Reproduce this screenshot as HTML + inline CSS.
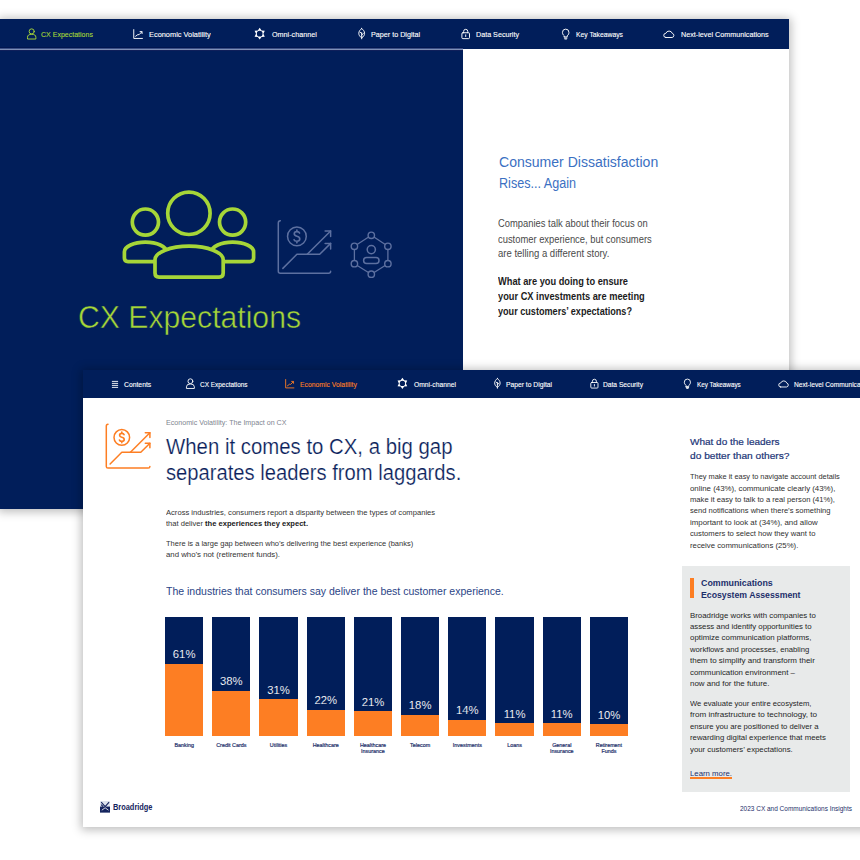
<!DOCTYPE html>
<html><head><meta charset="utf-8">
<style>
*{margin:0;padding:0;box-sizing:border-box}
html,body{width:860px;height:860px;overflow:hidden;background:#fff;font-family:"Liberation Sans", sans-serif}
b{font-weight:700}
</style></head><body>
<div style="position:absolute;left:0;top:19px;width:789px;height:490px;background:#011e5a;box-shadow:0 1px 9px 2px rgba(0,0,0,0.26)"></div>
<div style="position:absolute;left:0;top:47px;width:463px;height:1px;background:#011650"></div>
<div style="position:absolute;left:0;top:48px;width:463px;height:1px;background:#3a4f85"></div>
<div style="position:absolute;left:0;top:49px;width:463px;height:1px;background:#8090b6"></div>
<div style="position:absolute;left:0;top:50px;width:463px;height:1px;background:#0f1f5a"></div>
<div style="position:absolute;left:463px;top:49px;width:326px;height:460px;background:#fff"></div>
<svg style="position:absolute;left:26.0px;top:28.0px;overflow:visible" width="11.399999999999999" height="11.399999999999999" viewBox="0 0 12 12"><g fill="none" stroke="#a6d638" stroke-width="1.0" stroke-linecap="round" stroke-linejoin="round"><circle cx="6" cy="3.6" r="2.7"/><path d="M1.6 11.2 V9.8 A4.4 3.2 0 0 1 10.4 9.8 V11.2 Z"/></g></svg>
<div id="t0" style="position:absolute;left:41.40px;top:31.21px;font-size:8.0px;line-height:8.0px;color:#a6d638;font-weight:400;white-space:nowrap;transform:scaleX(0.8776);transform-origin:0 0;-webkit-text-stroke-width:0.12px;">CX Expectations</div>
<svg style="position:absolute;left:132.0px;top:28.0px;overflow:visible" width="11.399999999999999" height="11.399999999999999" viewBox="0 0 12 12"><g fill="none" stroke="#fff" stroke-width="1.0" stroke-linecap="round" stroke-linejoin="round"><path d="M1.85 1.7 V11 H11"/><path d="M3.8 8.7 L6.2 6.9 L7.4 7.1 L10.2 4.2"/><path d="M8.5 3.8 H10.6 V5.9"/></g></svg>
<div id="t1" style="position:absolute;left:149.00px;top:31.21px;font-size:8.0px;line-height:8.0px;color:#fff;font-weight:400;white-space:nowrap;transform:scaleX(0.9250);transform-origin:0 0;-webkit-text-stroke-width:0.12px;">Economic Volatility</div>
<svg style="position:absolute;left:254.0px;top:28.0px;overflow:visible" width="11.399999999999999" height="11.399999999999999" viewBox="0 0 12 12"><path d="M6.00 -0.20 L4.05 2.62 L0.63 2.90 L2.10 6.00 L0.63 9.10 L4.05 9.38 L6.00 12.20 L7.95 9.38 L11.37 9.10 L9.90 6.00 L11.37 2.90 L7.95 2.62 Z M9 6 A3 3 0 1 0 3 6 A3 3 0 1 0 9 6 Z" fill="#fff" fill-rule="evenodd"/></svg>
<div id="t2" style="position:absolute;left:271.90px;top:31.21px;font-size:8.0px;line-height:8.0px;color:#fff;font-weight:400;white-space:nowrap;transform:scaleX(0.8994);transform-origin:0 0;-webkit-text-stroke-width:0.12px;">Omni-channel</div>
<svg style="position:absolute;left:356.2px;top:28.0px;overflow:visible" width="11.399999999999999" height="11.399999999999999" viewBox="0 0 12 12"><g fill="none" stroke="#fff" stroke-width="1.0" stroke-linecap="round" stroke-linejoin="round"><path d="M6 0.6 C10 3.2 10.2 7.8 6 10.4 C1.8 7.8 2 3.2 6 0.6 Z"/><path d="M6 11.4 V5 M6 7.4 L7.8 5.8 M6 5.8 L4.4 4.4"/></g></svg>
<div id="t3" style="position:absolute;left:371.40px;top:31.21px;font-size:8.0px;line-height:8.0px;color:#fff;font-weight:400;white-space:nowrap;transform:scaleX(0.8976);transform-origin:0 0;-webkit-text-stroke-width:0.12px;">Paper to Digital</div>
<svg style="position:absolute;left:459.8px;top:28.0px;overflow:visible" width="11.399999999999999" height="11.399999999999999" viewBox="0 0 12 12"><g fill="none" stroke="#fff" stroke-width="1.0" stroke-linecap="round" stroke-linejoin="round"><rect x="2" y="5" width="8" height="6.2" rx="1"/><path d="M3.8 5 V3.6 A2.2 2.2 0 0 1 8.2 3.6 V5"/><path d="M6 7.2 V9"/></g></svg>
<div id="t4" style="position:absolute;left:475.60px;top:31.21px;font-size:8.0px;line-height:8.0px;color:#fff;font-weight:400;white-space:nowrap;transform:scaleX(0.8953);transform-origin:0 0;-webkit-text-stroke-width:0.12px;">Data Security</div>
<svg style="position:absolute;left:560.4px;top:28.0px;overflow:visible" width="11.399999999999999" height="11.399999999999999" viewBox="0 0 12 12"><g fill="none" stroke="#fff" stroke-width="1.0" stroke-linecap="round" stroke-linejoin="round"><path d="M4.4 8.2 C3 7.2 2.6 5.8 2.6 4.6 A3.4 3.4 0 0 1 9.4 4.6 C9.4 5.8 9 7.2 7.6 8.2 V9.4 H4.4 Z"/><path d="M4.6 10.6 H7.4 M5.2 11.6 H6.8"/></g></svg>
<div id="t5" style="position:absolute;left:575.60px;top:31.21px;font-size:8.0px;line-height:8.0px;color:#fff;font-weight:400;white-space:nowrap;transform:scaleX(0.8478);transform-origin:0 0;-webkit-text-stroke-width:0.12px;">Key Takeaways</div>
<svg style="position:absolute;left:663.4px;top:28.0px;overflow:visible" width="11.399999999999999" height="11.399999999999999" viewBox="0 0 12 12"><g fill="none" stroke="#fff" stroke-width="1.0" stroke-linecap="round" stroke-linejoin="round"><path d="M3 10 H9.6 A2.2 2.2 0 0 0 9.8 5.7 A3.6 3.6 0 0 0 3 5.6 A2.2 2.2 0 0 0 3 10 Z"/></g></svg>
<div id="t6" style="position:absolute;left:681.00px;top:31.21px;font-size:8.0px;line-height:8.0px;color:#fff;font-weight:400;white-space:nowrap;transform:scaleX(0.8996);transform-origin:0 0;-webkit-text-stroke-width:0.12px;">Next-level Communications</div>
<svg style="position:absolute;left:0;top:0" width="860" height="860">
<g fill="none" stroke="#a6d638" stroke-width="3.7" stroke-linejoin="round">
<circle cx="145.4" cy="222.1" r="13.1"/>
<circle cx="232.6" cy="222.1" r="13.1"/>
<circle cx="188.9" cy="213.3" r="21.2"/>
<path d="M124.4 251.8 A21 9.6 0 0 1 166.4 251.8 V258 Q166.4 261.6 162.8 261.6 H128 Q124.4 261.6 124.4 258 Z"/>
<path d="M211.6 251.8 A21 9.6 0 0 1 253.6 251.8 V258 Q253.6 261.6 250 261.6 H215.2 Q211.6 261.6 211.6 258 Z"/>
<path fill="#011e5a" d="M155 259.8 A34.1 13.6 0 0 1 223.2 259.8 V273 Q223.2 277.1 219.2 277.1 H159 Q155 277.1 155 273 Z"/>
</g>
<g fill="none" stroke="#5d70a0" stroke-width="1.5" stroke-linecap="round" stroke-linejoin="round">
<path d="M371.3 235.3 L354.4 246.3 V263.7 L371.3 274.2 L387.9 263.7 V246.3 Z" stroke-width="1.3"/>
<circle cx="371.3" cy="249.6" r="4.1"/>
<rect x="363.6" y="257.6" width="15.4" height="6" rx="3"/>
</g>
<g fill="#011e5a" stroke="#5d70a0" stroke-width="1.4">
<circle cx="371.3" cy="235.3" r="3.2"/><circle cx="371.3" cy="274.2" r="3.2"/>
<circle cx="354.4" cy="246.3" r="3.2"/><circle cx="354.4" cy="263.7" r="3.2"/>
<circle cx="387.9" cy="246.3" r="3.2"/><circle cx="387.9" cy="263.7" r="3.2"/>
</g>
<g transform="translate(278.3 220.6) scale(1.2) translate(-106.3 -424.2)"><g fill="none" stroke="#5d70a0" stroke-width="1.25" stroke-linecap="round" stroke-linejoin="round">
<path d="M108 424.3 Q106.3 424.3 106.3 426.2 V466.4 Q106.3 468.1 108 468.1 H148.2 Q149.9 468.1 149.9 466.4"/>
<circle cx="121.8" cy="437.4" r="7.8"/>
<path d="M110.1 464 L121.8 452.3 H140.8 L149.9 443.2"/>
<path d="M130.4 452.3 L149.9 432.8"/>
<path d="M145.3 432.8 H149.9 V437.4"/>
<path d="M145.3 443.2 H149.9 V447.8"/>
<path d="M124 434.6 Q123.6 433.4 121.8 433.4 Q119.6 433.4 119.6 435.2 Q119.6 436.8 121.8 437.3 Q124.2 437.8 124.2 439.6 Q124.2 441.4 121.8 441.4 Q119.8 441.4 119.4 440.1 M121.8 432.1 V433.4 M121.8 441.4 V442.7" stroke-width="1.375"/>
</g></g>
</svg>
<div id="t7" style="position:absolute;left:78.00px;top:302.01px;font-size:31px;line-height:31px;color:#a6d638;font-weight:400;white-space:nowrap;transform:scaleX(0.9731);transform-origin:0 0;-webkit-text-stroke:0.5px #011e5a;">CX Expectations</div>
<div id="t8" style="position:absolute;left:498.80px;top:154.60px;font-size:14px;line-height:14px;color:#3b70c2;font-weight:400;white-space:nowrap;transform:scaleX(1.0029);transform-origin:0 0;">Consumer Dissatisfaction</div>
<div id="t9" style="position:absolute;left:498.80px;top:175.51px;font-size:14px;line-height:14px;color:#3b70c2;font-weight:400;white-space:nowrap;transform:scaleX(0.8994);transform-origin:0 0;">Rises... Again</div>
<div id="t10" style="position:absolute;left:498.30px;top:219.40px;font-size:10px;line-height:10px;color:#4a4a4a;font-weight:400;white-space:nowrap;transform:scaleX(0.9383);transform-origin:0 0;">Companies talk about their focus on</div>
<div id="t11" style="position:absolute;left:498.30px;top:234.52px;font-size:10px;line-height:10px;color:#4a4a4a;font-weight:400;white-space:nowrap;transform:scaleX(0.9374);transform-origin:0 0;">customer experience, but consumers</div>
<div id="t12" style="position:absolute;left:498.30px;top:249.41px;font-size:10px;line-height:10px;color:#4a4a4a;font-weight:400;white-space:nowrap;transform:scaleX(0.9519);transform-origin:0 0;">are telling a different story.</div>
<div id="t13" style="position:absolute;left:498.30px;top:277.40px;font-size:10px;line-height:10px;color:#1c1c1c;font-weight:700;white-space:nowrap;transform:scaleX(0.9248);transform-origin:0 0;">What are you doing to ensure</div>
<div id="t14" style="position:absolute;left:498.30px;top:292.40px;font-size:10px;line-height:10px;color:#1c1c1c;font-weight:700;white-space:nowrap;transform:scaleX(0.9262);transform-origin:0 0;">your CX investments are meeting</div>
<div id="t15" style="position:absolute;left:498.30px;top:307.20px;font-size:10px;line-height:10px;color:#1c1c1c;font-weight:700;white-space:nowrap;transform:scaleX(0.9098);transform-origin:0 0;">your customers’ expectations?</div>
<div style="position:absolute;left:83px;top:370px;width:800px;height:457px;background:#fff;box-shadow:0 1px 9px 2px rgba(0,0,0,0.26)"></div>
<div style="position:absolute;left:83px;top:370px;width:800px;height:28px;background:#011e5a"></div>
<svg style="position:absolute;left:0;top:0" width="860" height="860"><path d="M111.9 381.4 H118.1 M111.9 383.4 H118.1 M111.9 385.4 H118.1 M111.9 387.4 H118.1" stroke="#fff" stroke-width="0.9"/></svg>
<div id="t16" style="position:absolute;left:123.70px;top:381.30px;font-size:7.4px;line-height:7.4px;color:#fff;font-weight:400;white-space:nowrap;transform:scaleX(0.9191);transform-origin:0 0;-webkit-text-stroke-width:0.12px;">Contents</div>
<svg style="position:absolute;left:184.8px;top:378.4px;overflow:visible" width="10.8" height="10.8" viewBox="0 0 12 12"><g fill="none" stroke="#fff" stroke-width="1.0" stroke-linecap="round" stroke-linejoin="round"><circle cx="6" cy="3.6" r="2.7"/><path d="M1.6 11.2 V9.8 A4.4 3.2 0 0 1 10.4 9.8 V11.2 Z"/></g></svg>
<div id="t17" style="position:absolute;left:199.80px;top:381.30px;font-size:7.4px;line-height:7.4px;color:#fff;font-weight:400;white-space:nowrap;transform:scaleX(0.8711);transform-origin:0 0;-webkit-text-stroke-width:0.12px;">CX Expectations</div>
<svg style="position:absolute;left:284.0px;top:378.4px;overflow:visible" width="10.8" height="10.8" viewBox="0 0 12 12"><g fill="none" stroke="#fd7e23" stroke-width="1.0" stroke-linecap="round" stroke-linejoin="round"><path d="M1.85 1.7 V11 H11"/><path d="M3.8 8.7 L6.2 6.9 L7.4 7.1 L10.2 4.2"/><path d="M8.5 3.8 H10.6 V5.9"/></g></svg>
<div id="t18" style="position:absolute;left:299.80px;top:381.30px;font-size:7.4px;line-height:7.4px;color:#fd7e23;font-weight:400;white-space:nowrap;transform:scaleX(0.9233);transform-origin:0 0;-webkit-text-stroke-width:0.12px;">Economic Volatility</div>
<svg style="position:absolute;left:397.4px;top:378.4px;overflow:visible" width="10.8" height="10.8" viewBox="0 0 12 12"><path d="M6.00 -0.20 L4.05 2.62 L0.63 2.90 L2.10 6.00 L0.63 9.10 L4.05 9.38 L6.00 12.20 L7.95 9.38 L11.37 9.10 L9.90 6.00 L11.37 2.90 L7.95 2.62 Z M9 6 A3 3 0 1 0 3 6 A3 3 0 1 0 9 6 Z" fill="#fff" fill-rule="evenodd"/></svg>
<div id="t19" style="position:absolute;left:413.70px;top:381.30px;font-size:7.4px;line-height:7.4px;color:#fff;font-weight:400;white-space:nowrap;transform:scaleX(0.9106);transform-origin:0 0;-webkit-text-stroke-width:0.12px;">Omni-channel</div>
<svg style="position:absolute;left:491.8px;top:378.4px;overflow:visible" width="10.8" height="10.8" viewBox="0 0 12 12"><g fill="none" stroke="#fff" stroke-width="1.0" stroke-linecap="round" stroke-linejoin="round"><path d="M6 0.6 C10 3.2 10.2 7.8 6 10.4 C1.8 7.8 2 3.2 6 0.6 Z"/><path d="M6 11.4 V5 M6 7.4 L7.8 5.8 M6 5.8 L4.4 4.4"/></g></svg>
<div id="t20" style="position:absolute;left:506.00px;top:381.30px;font-size:7.4px;line-height:7.4px;color:#fff;font-weight:400;white-space:nowrap;transform:scaleX(0.9103);transform-origin:0 0;-webkit-text-stroke-width:0.12px;">Paper to Digital</div>
<svg style="position:absolute;left:588.6px;top:378.4px;overflow:visible" width="10.8" height="10.8" viewBox="0 0 12 12"><g fill="none" stroke="#fff" stroke-width="1.0" stroke-linecap="round" stroke-linejoin="round"><rect x="2" y="5" width="8" height="6.2" rx="1"/><path d="M3.8 5 V3.6 A2.2 2.2 0 0 1 8.2 3.6 V5"/><path d="M6 7.2 V9"/></g></svg>
<div id="t21" style="position:absolute;left:603.30px;top:381.30px;font-size:7.4px;line-height:7.4px;color:#fff;font-weight:400;white-space:nowrap;transform:scaleX(0.9014);transform-origin:0 0;-webkit-text-stroke-width:0.12px;">Data Security</div>
<svg style="position:absolute;left:682.2px;top:378.4px;overflow:visible" width="10.8" height="10.8" viewBox="0 0 12 12"><g fill="none" stroke="#fff" stroke-width="1.0" stroke-linecap="round" stroke-linejoin="round"><path d="M4.4 8.2 C3 7.2 2.6 5.8 2.6 4.6 A3.4 3.4 0 0 1 9.4 4.6 C9.4 5.8 9 7.2 7.6 8.2 V9.4 H4.4 Z"/><path d="M4.6 10.6 H7.4 M5.2 11.6 H6.8"/></g></svg>
<div id="t22" style="position:absolute;left:696.50px;top:381.30px;font-size:7.4px;line-height:7.4px;color:#fff;font-weight:400;white-space:nowrap;transform:scaleX(0.8532);transform-origin:0 0;-webkit-text-stroke-width:0.12px;">Key Takeaways</div>
<svg style="position:absolute;left:778.0px;top:378.4px;overflow:visible" width="10.8" height="10.8" viewBox="0 0 12 12"><g fill="none" stroke="#fff" stroke-width="1.0" stroke-linecap="round" stroke-linejoin="round"><path d="M3 10 H9.6 A2.2 2.2 0 0 0 9.8 5.7 A3.6 3.6 0 0 0 3 5.6 A2.2 2.2 0 0 0 3 10 Z"/></g></svg>
<div id="t23" style="position:absolute;left:794.40px;top:381.30px;font-size:7.4px;line-height:7.4px;color:#fff;font-weight:400;white-space:nowrap;transform:scaleX(0.8960);transform-origin:0 0;-webkit-text-stroke-width:0.12px;">Next-level Communications</div>
<svg style="position:absolute;left:0;top:0" width="860" height="860"><g fill="none" stroke="#fd7e23" stroke-width="1.5" stroke-linecap="round" stroke-linejoin="round">
<path d="M108 424.3 Q106.3 424.3 106.3 426.2 V466.4 Q106.3 468.1 108 468.1 H148.2 Q149.9 468.1 149.9 466.4"/>
<circle cx="121.8" cy="437.4" r="7.8"/>
<path d="M110.1 464 L121.8 452.3 H140.8 L149.9 443.2"/>
<path d="M130.4 452.3 L149.9 432.8"/>
<path d="M145.3 432.8 H149.9 V437.4"/>
<path d="M145.3 443.2 H149.9 V447.8"/>
<path d="M124 434.6 Q123.6 433.4 121.8 433.4 Q119.6 433.4 119.6 435.2 Q119.6 436.8 121.8 437.3 Q124.2 437.8 124.2 439.6 Q124.2 441.4 121.8 441.4 Q119.8 441.4 119.4 440.1 M121.8 432.1 V433.4 M121.8 441.4 V442.7" stroke-width="1.6500000000000001"/>
</g></svg>
<div id="t24" style="position:absolute;left:165.70px;top:419.00px;font-size:7.2px;line-height:7.2px;color:#80858f;font-weight:400;white-space:nowrap;transform:scaleX(0.9900);transform-origin:0 0;">Economic Volatility: The Impact on CX</div>
<div id="t25" style="position:absolute;left:166.00px;top:436.50px;font-size:21.5px;line-height:21.5px;color:#0c1f5c;font-weight:400;white-space:nowrap;transform:scaleX(0.9476);transform-origin:0 0;-webkit-text-stroke:0.2px #fff;">When it comes to CX, a big gap</div>
<div id="t26" style="position:absolute;left:166.00px;top:462.81px;font-size:21.5px;line-height:21.5px;color:#0c1f5c;font-weight:400;white-space:nowrap;transform:scaleX(0.9395);transform-origin:0 0;-webkit-text-stroke:0.2px #fff;">separates leaders from laggards.</div>
<div id="t27" style="position:absolute;left:165.70px;top:509.01px;font-size:7.8px;line-height:7.8px;color:#333333;font-weight:400;white-space:nowrap;transform:scaleX(0.9748);transform-origin:0 0;">Across industries, consumers report a disparity between the types of companies</div>
<div id="t28" style="position:absolute;left:165.70px;top:520.20px;font-size:7.8px;line-height:7.8px;color:#333333;font-weight:400;white-space:nowrap;transform:scaleX(0.9693);transform-origin:0 0;">that deliver <b style="color:#1a1a1a">the experiences they expect.</b></div>
<div id="t29" style="position:absolute;left:165.70px;top:540.40px;font-size:7.8px;line-height:7.8px;color:#333333;font-weight:400;white-space:nowrap;transform:scaleX(0.9623);transform-origin:0 0;">There is a large gap between who’s delivering the best experience (banks)</div>
<div id="t30" style="position:absolute;left:165.70px;top:551.40px;font-size:7.8px;line-height:7.8px;color:#333333;font-weight:400;white-space:nowrap;transform:scaleX(1.0014);transform-origin:0 0;">and who’s not (retirement funds).</div>
<div id="t31" style="position:absolute;left:166.30px;top:585.70px;font-size:11.5px;line-height:11.5px;color:#2b4586;font-weight:400;white-space:nowrap;transform:scaleX(0.9140);transform-origin:0 0;">The industries that consumers say deliver the best customer experience.</div>
<div style="position:absolute;left:165.00px;top:617.2px;width:38.3px;height:46.41px;background:#011e5a"></div>
<div style="position:absolute;left:165.00px;top:663.61px;width:38.3px;height:72.59px;background:#fd7e23"></div>
<div id="t32" style="position:absolute;left:184.15px;top:649.02px;font-size:11.3px;line-height:11.3px;color:#fff;font-weight:400;white-space:nowrap;transform:translateX(-50%) scaleX(1.0);transform-origin:50% 0;-webkit-text-stroke:0.1px #011e5a;">61%</div>
<div id="t33" style="position:absolute;left:184.15px;top:742.81px;font-size:5.4px;line-height:5.4px;color:#1d2f6a;font-weight:400;white-space:nowrap;transform:translateX(-50%) scaleX(1.0);transform-origin:50% 0;-webkit-text-stroke-width:0.2px;">Banking</div>
<div style="position:absolute;left:212.20px;top:617.2px;width:38.3px;height:73.78px;background:#011e5a"></div>
<div style="position:absolute;left:212.20px;top:690.98px;width:38.3px;height:45.22px;background:#fd7e23"></div>
<div id="t34" style="position:absolute;left:231.35px;top:676.40px;font-size:11.3px;line-height:11.3px;color:#fff;font-weight:400;white-space:nowrap;transform:translateX(-50%) scaleX(1.0);transform-origin:50% 0;-webkit-text-stroke:0.1px #011e5a;">38%</div>
<div id="t35" style="position:absolute;left:231.35px;top:742.81px;font-size:5.4px;line-height:5.4px;color:#1d2f6a;font-weight:400;white-space:nowrap;transform:translateX(-50%) scaleX(1.0);transform-origin:50% 0;-webkit-text-stroke-width:0.2px;">Credit Cards</div>
<div style="position:absolute;left:259.40px;top:617.2px;width:38.3px;height:82.11px;background:#011e5a"></div>
<div style="position:absolute;left:259.40px;top:699.31px;width:38.3px;height:36.89px;background:#fd7e23"></div>
<div id="t36" style="position:absolute;left:278.55px;top:684.73px;font-size:11.3px;line-height:11.3px;color:#fff;font-weight:400;white-space:nowrap;transform:translateX(-50%) scaleX(1.0);transform-origin:50% 0;-webkit-text-stroke:0.1px #011e5a;">31%</div>
<div id="t37" style="position:absolute;left:278.55px;top:742.81px;font-size:5.4px;line-height:5.4px;color:#1d2f6a;font-weight:400;white-space:nowrap;transform:translateX(-50%) scaleX(1.0);transform-origin:50% 0;-webkit-text-stroke-width:0.2px;">Utilities</div>
<div style="position:absolute;left:306.60px;top:617.2px;width:38.3px;height:92.82px;background:#011e5a"></div>
<div style="position:absolute;left:306.60px;top:710.02px;width:38.3px;height:26.18px;background:#fd7e23"></div>
<div id="t38" style="position:absolute;left:325.75px;top:695.43px;font-size:11.3px;line-height:11.3px;color:#fff;font-weight:400;white-space:nowrap;transform:translateX(-50%) scaleX(1.0);transform-origin:50% 0;-webkit-text-stroke:0.1px #011e5a;">22%</div>
<div id="t39" style="position:absolute;left:325.75px;top:742.81px;font-size:5.4px;line-height:5.4px;color:#1d2f6a;font-weight:400;white-space:nowrap;transform:translateX(-50%) scaleX(1.0);transform-origin:50% 0;-webkit-text-stroke-width:0.2px;">Healthcare</div>
<div style="position:absolute;left:353.80px;top:617.2px;width:38.3px;height:94.01px;background:#011e5a"></div>
<div style="position:absolute;left:353.80px;top:711.21px;width:38.3px;height:24.99px;background:#fd7e23"></div>
<div id="t40" style="position:absolute;left:372.95px;top:696.62px;font-size:11.3px;line-height:11.3px;color:#fff;font-weight:400;white-space:nowrap;transform:translateX(-50%) scaleX(1.0);transform-origin:50% 0;-webkit-text-stroke:0.1px #011e5a;">21%</div>
<div id="t41" style="position:absolute;left:372.95px;top:742.81px;font-size:5.4px;line-height:5.4px;color:#1d2f6a;font-weight:400;white-space:nowrap;transform:translateX(-50%) scaleX(1.0);transform-origin:50% 0;-webkit-text-stroke-width:0.2px;">Healthcare</div>
<div id="t42" style="position:absolute;left:372.95px;top:748.51px;font-size:5.4px;line-height:5.4px;color:#1d2f6a;font-weight:400;white-space:nowrap;transform:translateX(-50%) scaleX(1.0);transform-origin:50% 0;-webkit-text-stroke-width:0.2px;">Insurance</div>
<div style="position:absolute;left:401.00px;top:617.2px;width:38.3px;height:97.58px;background:#011e5a"></div>
<div style="position:absolute;left:401.00px;top:714.78px;width:38.3px;height:21.42px;background:#fd7e23"></div>
<div id="t43" style="position:absolute;left:420.15px;top:700.19px;font-size:11.3px;line-height:11.3px;color:#fff;font-weight:400;white-space:nowrap;transform:translateX(-50%) scaleX(1.0);transform-origin:50% 0;-webkit-text-stroke:0.1px #011e5a;">18%</div>
<div id="t44" style="position:absolute;left:420.15px;top:742.81px;font-size:5.4px;line-height:5.4px;color:#1d2f6a;font-weight:400;white-space:nowrap;transform:translateX(-50%) scaleX(1.0);transform-origin:50% 0;-webkit-text-stroke-width:0.2px;">Telecom</div>
<div style="position:absolute;left:448.20px;top:617.2px;width:38.3px;height:102.34px;background:#011e5a"></div>
<div style="position:absolute;left:448.20px;top:719.54px;width:38.3px;height:16.66px;background:#fd7e23"></div>
<div id="t45" style="position:absolute;left:467.35px;top:704.96px;font-size:11.3px;line-height:11.3px;color:#fff;font-weight:400;white-space:nowrap;transform:translateX(-50%) scaleX(1.0);transform-origin:50% 0;-webkit-text-stroke:0.1px #011e5a;">14%</div>
<div id="t46" style="position:absolute;left:467.35px;top:742.81px;font-size:5.4px;line-height:5.4px;color:#1d2f6a;font-weight:400;white-space:nowrap;transform:translateX(-50%) scaleX(1.0);transform-origin:50% 0;-webkit-text-stroke-width:0.2px;">Investments</div>
<div style="position:absolute;left:495.40px;top:617.2px;width:38.3px;height:105.91px;background:#011e5a"></div>
<div style="position:absolute;left:495.40px;top:723.11px;width:38.3px;height:13.09px;background:#fd7e23"></div>
<div id="t47" style="position:absolute;left:514.55px;top:708.52px;font-size:11.3px;line-height:11.3px;color:#fff;font-weight:400;white-space:nowrap;transform:translateX(-50%) scaleX(1.0);transform-origin:50% 0;-webkit-text-stroke:0.1px #011e5a;">11%</div>
<div id="t48" style="position:absolute;left:514.55px;top:742.81px;font-size:5.4px;line-height:5.4px;color:#1d2f6a;font-weight:400;white-space:nowrap;transform:translateX(-50%) scaleX(1.0);transform-origin:50% 0;-webkit-text-stroke-width:0.2px;">Loans</div>
<div style="position:absolute;left:542.60px;top:617.2px;width:38.3px;height:105.91px;background:#011e5a"></div>
<div style="position:absolute;left:542.60px;top:723.11px;width:38.3px;height:13.09px;background:#fd7e23"></div>
<div id="t49" style="position:absolute;left:561.75px;top:708.52px;font-size:11.3px;line-height:11.3px;color:#fff;font-weight:400;white-space:nowrap;transform:translateX(-50%) scaleX(1.0);transform-origin:50% 0;-webkit-text-stroke:0.1px #011e5a;">11%</div>
<div id="t50" style="position:absolute;left:561.75px;top:742.81px;font-size:5.4px;line-height:5.4px;color:#1d2f6a;font-weight:400;white-space:nowrap;transform:translateX(-50%) scaleX(1.0);transform-origin:50% 0;-webkit-text-stroke-width:0.2px;">General</div>
<div id="t51" style="position:absolute;left:561.75px;top:748.51px;font-size:5.4px;line-height:5.4px;color:#1d2f6a;font-weight:400;white-space:nowrap;transform:translateX(-50%) scaleX(1.0);transform-origin:50% 0;-webkit-text-stroke-width:0.2px;">Insurance</div>
<div style="position:absolute;left:589.80px;top:617.2px;width:38.3px;height:107.10px;background:#011e5a"></div>
<div style="position:absolute;left:589.80px;top:724.30px;width:38.3px;height:11.90px;background:#fd7e23"></div>
<div id="t52" style="position:absolute;left:608.95px;top:709.71px;font-size:11.3px;line-height:11.3px;color:#fff;font-weight:400;white-space:nowrap;transform:translateX(-50%) scaleX(1.0);transform-origin:50% 0;-webkit-text-stroke:0.1px #011e5a;">10%</div>
<div id="t53" style="position:absolute;left:608.95px;top:742.81px;font-size:5.4px;line-height:5.4px;color:#1d2f6a;font-weight:400;white-space:nowrap;transform:translateX(-50%) scaleX(1.0);transform-origin:50% 0;-webkit-text-stroke-width:0.2px;">Retirement</div>
<div id="t54" style="position:absolute;left:608.95px;top:748.51px;font-size:5.4px;line-height:5.4px;color:#1d2f6a;font-weight:400;white-space:nowrap;transform:translateX(-50%) scaleX(1.0);transform-origin:50% 0;-webkit-text-stroke-width:0.2px;">Funds</div>
<div id="t55" style="position:absolute;left:690.40px;top:437.10px;font-size:9.6px;line-height:9.6px;color:#1c3578;font-weight:400;white-space:nowrap;transform:scaleX(1.0422);transform-origin:0 0;-webkit-text-stroke-width:0.2px;">What do the leaders</div>
<div id="t56" style="position:absolute;left:690.40px;top:451.41px;font-size:9.6px;line-height:9.6px;color:#1c3578;font-weight:400;white-space:nowrap;transform:scaleX(1.0599);transform-origin:0 0;-webkit-text-stroke-width:0.2px;">do better than others?</div>
<div id="t57" style="position:absolute;left:690.30px;top:473.20px;font-size:7.8px;line-height:7.8px;color:#303030;font-weight:400;white-space:nowrap;transform:scaleX(0.9495);transform-origin:0 0;">They make it easy to navigate account details</div>
<div id="t58" style="position:absolute;left:690.30px;top:484.60px;font-size:7.8px;line-height:7.8px;color:#303030;font-weight:400;white-space:nowrap;transform:scaleX(1.0075);transform-origin:0 0;">online (43%), communicate clearly (43%),</div>
<div id="t59" style="position:absolute;left:690.30px;top:496.01px;font-size:7.8px;line-height:7.8px;color:#303030;font-weight:400;white-space:nowrap;transform:scaleX(0.9783);transform-origin:0 0;">make it easy to talk to a real person (41%),</div>
<div id="t60" style="position:absolute;left:690.30px;top:507.40px;font-size:7.8px;line-height:7.8px;color:#303030;font-weight:400;white-space:nowrap;transform:scaleX(0.9715);transform-origin:0 0;">send notifications when there’s something</div>
<div id="t61" style="position:absolute;left:690.30px;top:518.81px;font-size:7.8px;line-height:7.8px;color:#303030;font-weight:400;white-space:nowrap;transform:scaleX(1.0090);transform-origin:0 0;">important to look at (34%), and allow</div>
<div id="t62" style="position:absolute;left:690.30px;top:530.20px;font-size:7.8px;line-height:7.8px;color:#303030;font-weight:400;white-space:nowrap;transform:scaleX(0.9817);transform-origin:0 0;">customers to select how they want to</div>
<div id="t63" style="position:absolute;left:690.30px;top:541.60px;font-size:7.8px;line-height:7.8px;color:#303030;font-weight:400;white-space:nowrap;transform:scaleX(0.9957);transform-origin:0 0;">receive communications (25%).</div>
<div style="position:absolute;left:681.5px;top:565.6px;width:168px;height:226.4px;background:#e8eaea"></div>
<div style="position:absolute;left:690.3px;top:578.2px;width:4px;height:20px;background:#fd7e23"></div>
<div id="t64" style="position:absolute;left:700.90px;top:578.91px;font-size:8.6px;line-height:8.6px;color:#1d2f6a;font-weight:700;white-space:nowrap;transform:scaleX(1.0299);transform-origin:0 0;">Communications</div>
<div id="t65" style="position:absolute;left:700.90px;top:590.61px;font-size:8.6px;line-height:8.6px;color:#1d2f6a;font-weight:700;white-space:nowrap;transform:scaleX(1.0143);transform-origin:0 0;">Ecosystem Assessment</div>
<div id="t66" style="position:absolute;left:689.90px;top:611.51px;font-size:7.8px;line-height:7.8px;color:#262626;font-weight:400;white-space:nowrap;transform:scaleX(1.0052);transform-origin:0 0;">Broadridge works with companies to</div>
<div id="t67" style="position:absolute;left:689.90px;top:622.90px;font-size:7.8px;line-height:7.8px;color:#262626;font-weight:400;white-space:nowrap;transform:scaleX(0.9976);transform-origin:0 0;">assess and identify opportunities to</div>
<div id="t68" style="position:absolute;left:689.90px;top:634.31px;font-size:7.8px;line-height:7.8px;color:#262626;font-weight:400;white-space:nowrap;transform:scaleX(1.0122);transform-origin:0 0;">optimize communication platforms,</div>
<div id="t69" style="position:absolute;left:689.90px;top:645.70px;font-size:7.8px;line-height:7.8px;color:#262626;font-weight:400;white-space:nowrap;transform:scaleX(0.9866);transform-origin:0 0;">workflows and processes, enabling</div>
<div id="t70" style="position:absolute;left:689.90px;top:657.10px;font-size:7.8px;line-height:7.8px;color:#262626;font-weight:400;white-space:nowrap;transform:scaleX(1.0249);transform-origin:0 0;">them to simplify and transform their</div>
<div id="t71" style="position:absolute;left:689.90px;top:668.51px;font-size:7.8px;line-height:7.8px;color:#262626;font-weight:400;white-space:nowrap;transform:scaleX(1.0085);transform-origin:0 0;">communication environment –</div>
<div id="t72" style="position:absolute;left:689.90px;top:679.90px;font-size:7.8px;line-height:7.8px;color:#262626;font-weight:400;white-space:nowrap;transform:scaleX(1.0188);transform-origin:0 0;">now and for the future.</div>
<div id="t73" style="position:absolute;left:689.90px;top:699.90px;font-size:7.8px;line-height:7.8px;color:#262626;font-weight:400;white-space:nowrap;transform:scaleX(0.9813);transform-origin:0 0;">We evaluate your entire ecosystem,</div>
<div id="t74" style="position:absolute;left:689.90px;top:711.31px;font-size:7.8px;line-height:7.8px;color:#262626;font-weight:400;white-space:nowrap;transform:scaleX(1.0405);transform-origin:0 0;">from infrastructure to technology, to</div>
<div id="t75" style="position:absolute;left:689.90px;top:722.70px;font-size:7.8px;line-height:7.8px;color:#262626;font-weight:400;white-space:nowrap;transform:scaleX(0.9890);transform-origin:0 0;">ensure you are positioned to deliver a</div>
<div id="t76" style="position:absolute;left:689.90px;top:734.10px;font-size:7.8px;line-height:7.8px;color:#262626;font-weight:400;white-space:nowrap;transform:scaleX(1.0018);transform-origin:0 0;">rewarding digital experience that meets</div>
<div id="t77" style="position:absolute;left:689.90px;top:745.51px;font-size:7.8px;line-height:7.8px;color:#262626;font-weight:400;white-space:nowrap;transform:scaleX(0.9985);transform-origin:0 0;">your customers’ expectations.</div>
<div id="t78" style="position:absolute;left:689.90px;top:769.70px;font-size:7.8px;line-height:7.8px;color:#1d2f6a;font-weight:400;white-space:nowrap;transform:scaleX(0.9989);transform-origin:0 0;">Learn more.</div>
<div style="position:absolute;left:689.9px;top:777.4px;width:42px;height:1.4px;background:#fd7e23"></div>
<div id="t79" style="position:absolute;left:739.60px;top:806.00px;font-size:6.5px;line-height:6.5px;color:#1d2f6a;font-weight:400;white-space:nowrap;transform:scaleX(0.9967);transform-origin:0 0;">2023 CX and Communications Insights</div>
<svg style="position:absolute;left:99.5px;top:801.4px" width="10.3" height="11.6" viewBox="0 0 10.3 11.6">
<rect x="0" y="0" width="10.3" height="11.6" fill="#dfe4ee"/>
<rect x="0" y="5.6" width="10.3" height="6" fill="#15245e"/>
<path d="M1.2 1.2 L5.15 5.6 L9.1 1.2 M5.15 5.6 V8.4 M1.2 3.6 L3 5.6" stroke="#15245e" stroke-width="1.1" fill="none"/>
<path d="M1.8 9.2 L5.15 6.8 L8.5 9.2" stroke="#fff" stroke-width="0.8" fill="none"/>
</svg>
<div id="t80" style="position:absolute;left:113.10px;top:803.30px;font-size:8.4px;line-height:8.4px;color:#15245e;font-weight:700;white-space:nowrap;transform:scaleX(0.8839);transform-origin:0 0;">Broadridge</div>
</body></html>
